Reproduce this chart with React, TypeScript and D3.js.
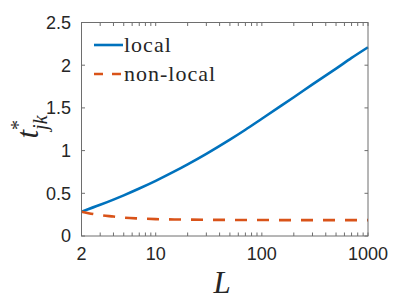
import React from 'react';
import * as d3 from 'd3';

// values
const lValues = [2, 3, 4, 5, 7, 10, 15, 20, 30, 50, 70, 100, 150, 200, 300, 500, 700, 1000];
const localValues = [0.285, 0.365, 0.426, 0.476, 0.556, 0.646, 0.756, 0.839, 0.962, 1.128, 1.244, 1.373, 1.52, 1.625, 1.775, 1.96, 2.085, 2.21];
const nonLocalValues = [0.285, 0.245, 0.228, 0.215, 0.205, 0.198, 0.194, 0.192, 0.19, 0.188, 0.187, 0.187, 0.186, 0.186, 0.186, 0.186, 0.186, 0.186];
const xTickLabels = [2, 10, 100, 1000];
const yTickValues = [0, 0.5, 1, 1.5, 2, 2.5];
const seriesNames = ['local', 'non-local'];

const W = 407;
const H = 305;
const margin = { top: 22.5, right: 39, bottom: 69, left: 81.5 };
const axisColor = '#6e6e6e';
const textColor = '#262626';
const serif = "'Liberation Serif', 'Times New Roman', serif";
const sans = "'Liberation Sans', Arial, sans-serif";

const App = () => {
  const x = d3.scaleLog().domain([2, 1000]).range([margin.left, W - margin.right]);
  const y = d3.scaleLinear().domain([0, 2.5]).range([H - margin.bottom, margin.top]);

  const line = d3.line<number>()
    .x((_, i) => x(lValues[i]))
    .y(d => y(d))
    .curve(d3.curveMonotoneX);

  // minor log ticks between 2 and 1000
  const minorTicks: number[] = [];
  [1, 10, 100].forEach(dec => {
    for (let k = 1; k <= 9; k++) {
      const v = dec * k;
      if (v >= 2 && v <= 1000) minorTicks.push(v);
    }
  });
  minorTicks.push(1000);

  const x0 = margin.left;
  const x1 = W - margin.right;
  const y0 = H - margin.bottom;
  const y1 = margin.top;
  const tl = 3.5;

  return (
    <svg width={W} height={H} style={{ position: 'absolute', left: 0, top: 0, background: '#fff' }}>
      {/* lines */}
      <path d={line(localValues) || ''} fill="none" stroke="#0072BD" strokeWidth={2.6} />
      <path d={line(nonLocalValues) || ''} fill="none" stroke="#D95319" strokeWidth={2.6} strokeDasharray="12,10" />

      {/* box */}
      <rect x={x0} y={y1} width={x1 - x0} height={y0 - y1} fill="none" stroke={axisColor} strokeWidth={1} />

      {/* x ticks */}
      {minorTicks.map(v => (
        <g key={'xt' + v}>
          <line x1={x(v)} x2={x(v)} y1={y0} y2={y0 - tl} stroke={axisColor} />
          <line x1={x(v)} x2={x(v)} y1={y1} y2={y1 + tl} stroke={axisColor} />
        </g>
      ))}
      {xTickLabels.map(v => (
        <text key={'xl' + v} x={x(v)} y={260} textAnchor="middle" fontFamily={sans} fontSize={18} fill={textColor}>
          {v}
        </text>
      ))}

      {/* y ticks */}
      {yTickValues.map(v => (
        <g key={'yt' + v}>
          <line x1={x0} x2={x0 + tl} y1={y(v)} y2={y(v)} stroke={axisColor} />
          <line x1={x1} x2={x1 - tl} y1={y(v)} y2={y(v)} stroke={axisColor} />
          <text x={71} y={y(v)} dy="0.36em" textAnchor="end" fontFamily={sans} fontSize={18} fill={textColor}>
            {v}
          </text>
        </g>
      ))}

      {/* axis labels */}
      <text x={222} y={293} textAnchor="middle" fontFamily={serif} fontStyle="italic" fontSize={31} fill={textColor}>
        L
      </text>
      <text transform="translate(38,127) rotate(-90)" textAnchor="middle" fontFamily={serif} fontSize={31} fill={textColor}>
        <tspan fontStyle="italic">t</tspan>
        <tspan fontSize={20} dy={-13}>*</tspan>
        <tspan fontSize={20} fontStyle="italic" dx={-10} dy={22}>jk</tspan>
      </text>

      {/* legend */}
      <g fontFamily={serif} fontSize={22} fill={textColor} letterSpacing={1}>
        <line x1={94} x2={123} y1={45} y2={45} stroke="#0072BD" strokeWidth={2.6} />
        <text x={124} y={52}>{seriesNames[0]}</text>
        <line x1={94} x2={123} y1={74} y2={74} stroke="#D95319" strokeWidth={2.6} strokeDasharray="9,9" />
        <text x={124} y={81}>{seriesNames[1]}</text>
      </g>
    </svg>
  );
};

export default App;
